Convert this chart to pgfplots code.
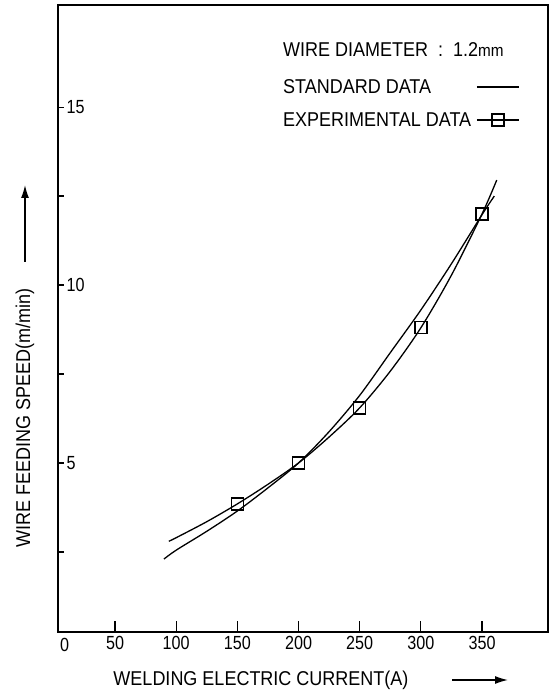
\documentclass[border=0pt]{standalone}
\usepackage{pgfplots}
\pgfplotsset{compat=1.18}
\usepackage{fontspec}
\setmainfont{Liberation Sans}
\newfontfamily\cond{Liberation Sans}[FakeStretch=0.9]
\newfontfamily\tickf{Liberation Sans}[FakeStretch=0.85]
\usetikzlibrary{arrows.meta}
\begin{document}
\begin{tikzpicture}
\useasboundingbox (0,0) rectangle (554pt,693pt);
\begin{axis}[
  at={(58pt,61pt)}, anchor=south west,
  scale only axis, width=490pt, height=627pt,
  xmin=3.4, xmax=403.9, ymin=0.25, ymax=17.87,
  axis line style={line width=1.5pt},
  xtick={50,100,150,200,250,300,350},
  ytick={5,10,15},
  minor ytick={2.5,5,7.5,10,12.5,15},
  xtick pos=bottom, ytick pos=left,
  tick align=inside,
  major tick length=11pt,
  minor tick length=6pt,
  tick style={line width=1.2pt, black},
  major y tick style={draw=none},
  /pgf/number format/assume math mode=true,
  ticklabel style={font=\tickf\fontsize{19}{21}\selectfont},
  yticklabel style={anchor=west, xshift=5pt},
  xticklabel style={yshift=-1pt},
  legend plot pos=right,
  legend cell align=left,
  legend style={draw=none, fill=none, at={(axis description cs:0.455,0.884)}, anchor=north west,
    font=\cond\fontsize{20}{22}\selectfont, row sep=15pt, column sep=3pt, inner sep=0pt,
    nodes={text height=14pt, text depth=0pt, inner sep=2pt}},
  legend image code/.code={\draw[mark repeat=2,mark phase=2,#1] plot coordinates {(0pt,0pt) (21pt,0pt) (42pt,0pt)};},
]
% standard data
\addplot[black, line width=1.3pt, smooth, forget plot] coordinates {
 (90,2.30) (100,2.55) (125,3.08) (150,3.65) (175,4.30) (200,5.00) (225,5.88)
 (250,6.90) (275,8.10) (300,9.30) (325,10.60) (350,11.98) (360,12.50)};
% experimental curve
\addplot[black, line width=1.3pt, smooth, forget plot] coordinates {
 (94,2.80) (100,2.90) (125,3.35) (150,3.85) (175,4.40) (200,5.00) (225,5.73)
 (250,6.55) (275,7.58) (300,8.80) (325,10.28) (350,12.00) (362,12.95)};
% experimental points
\addplot[only marks, mark=square, mark size=6pt, mark options={line width=1.4pt, black, fill=none}, forget plot] coordinates {
 (150,3.85) (200,5.00) (250,6.55) (300,8.80) (350,12.00)};
\addlegendimage{black, line width=1.3pt}
\addlegendentry{STANDARD DATA}
\addlegendimage{black, line width=1.3pt, mark=square, mark size=6pt, mark options={line width=1.4pt, fill=none}}
\addlegendentry{EXPERIMENTAL DATA}
\end{axis}
\node[anchor=west, font=\cond\fontsize{20}{22}\selectfont, inner sep=0pt] at (283pt,643pt) {WIRE DIAMETER\ \ :\ \ 1.2{\fontsize{17}{19}\selectfont mm}};
\node[anchor=north west, font=\tickf\fontsize{19}{21}\selectfont, inner sep=0pt] at (60pt,55pt) {0};
\node[font=\cond\fontsize{20}{22}\selectfont, inner sep=0pt] at (261pt,13pt) {WELDING ELECTRIC CURRENT(A)};
\draw[line width=1.3pt, -{Latex[length=13pt,width=8pt]}] (452pt,13pt) -- (508pt,13pt);
\node[rotate=90, font=\cond\fontsize{20}{22}\selectfont, inner sep=0pt] at (25pt,275pt) {WIRE FEEDING SPEED(m/min)};
\draw[line width=1.3pt, -{Latex[length=13pt,width=8pt]}] (25pt,431pt) -- (25pt,508pt);
\end{tikzpicture}
\end{document}
